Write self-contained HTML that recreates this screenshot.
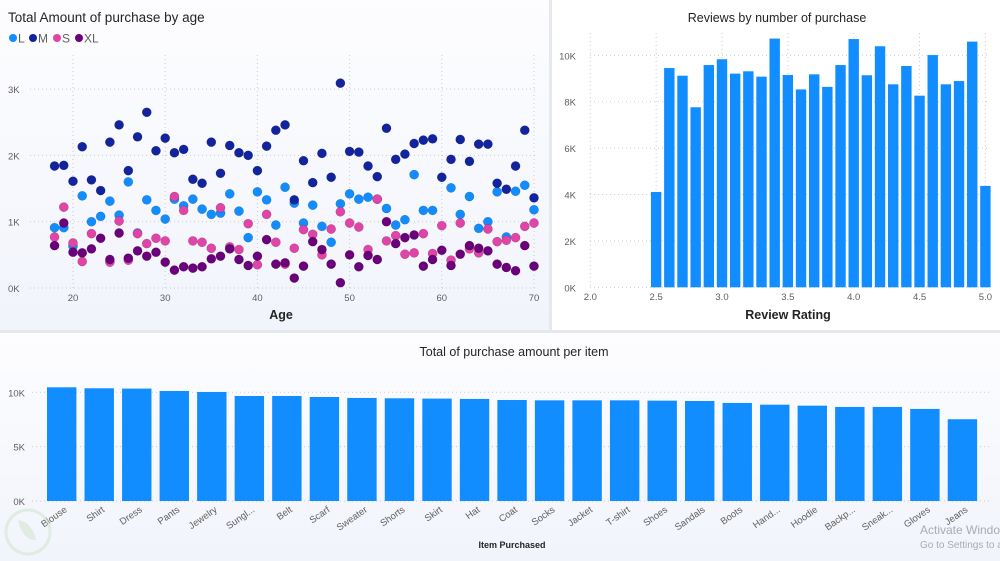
<!DOCTYPE html>
<html><head><meta charset="utf-8">
<style>
html,body{margin:0;padding:0;width:1000px;height:561px;overflow:hidden;background:#e6e8ef;font-family:"Liberation Sans",sans-serif;}
svg{display:block}
</style></head>
<body>
<svg id="root" width="1000" height="561" xmlns="http://www.w3.org/2000/svg">
<defs>
<linearGradient id="pg" x1="0" y1="0" x2="0" y2="1"><stop offset="0" stop-color="#fdfdff"/><stop offset="1" stop-color="#f1f4fb"/></linearGradient>
</defs>
<rect x="0" y="0" width="549" height="330" fill="url(#pg)"/>
<rect x="552" y="0" width="448" height="330" fill="#ffffff"/>
<rect x="0" y="333" width="1000" height="228" fill="url(#pg)"/>
<g id="scatter"></g>
<g id="reviews"></g>
<g id="items"></g>
<text x="920" y="534" font-size="12" fill="#a8abb3">Activate Windows</text>
<text x="920" y="548" font-size="10" fill="#a8abb3">Go to Settings to activate</text>
<g opacity="0.5"><circle cx="28" cy="532" r="22" fill="none" stroke="#cfe3c8" stroke-width="3"/><path d="M18 520 Q32 522 36 540 Q22 540 18 520Z" fill="#cfe3c8"/></g>
</svg>
<script>
const NS="http://www.w3.org/2000/svg";
function mk(tag,attrs,parent,txt){const e=document.createElementNS(NS,tag);for(const k in attrs)e.setAttribute(k,attrs[k]);if(txt!==undefined)e.textContent=txt;parent.appendChild(e);return e;}

// ---------- Scatter data ----------
const ages=[18,19,20,21,22,23,24,25,26,27,28,29,30,31,32,33,34,35,36,37,38,39,40,41,42,43,44,45,46,47,48,49,50,51,52,53,54,55,56,57,58,59,60,61,62,63,64,65,66,67,68,69,70];
const valL=[0.91,0.91,0.63,1.39,1.0,1.08,1.31,1.10,1.60,0.83,1.33,1.17,1.04,1.34,1.24,1.34,1.19,1.11,1.13,1.42,1.16,0.76,1.45,1.33,0.95,1.52,1.28,0.98,1.25,0.93,0.69,1.27,1.42,1.34,1.37,1.34,1.20,0.95,1.03,1.71,1.17,1.17,null,1.51,1.11,1.38,0.90,1.0,1.45,0.77,1.46,1.55,1.18];
const valM=[1.84,1.85,1.61,2.13,1.63,1.47,2.20,2.46,1.77,2.28,2.65,2.07,2.26,2.04,2.09,1.64,1.58,2.20,1.73,2.15,2.04,2.0,1.77,2.14,2.38,2.46,1.33,1.92,1.59,2.03,1.67,3.09,2.06,2.05,1.84,1.68,2.41,1.94,2.02,2.18,2.23,2.25,1.67,1.94,2.24,1.91,2.17,2.17,1.58,1.49,1.84,2.38,1.36];
const valS=[0.77,1.22,0.68,0.40,0.82,null,0.39,1.01,0.42,0.82,0.67,0.75,0.71,1.38,1.17,0.71,0.69,0.60,1.21,0.62,0.58,0.97,0.35,1.11,0.69,0.36,0.60,0.88,0.81,0.50,0.89,1.15,0.98,0.92,0.58,1.34,0.71,0.79,0.51,0.53,0.82,0.52,0.94,0.42,0.98,0.59,0.53,0.89,0.70,0.72,0.76,0.93,0.98];
const valXL=[0.64,0.98,0.54,0.53,0.59,0.75,0.43,0.83,0.45,0.56,0.48,0.54,0.39,0.27,0.32,0.30,0.32,0.44,0.48,0.59,0.43,0.34,0.48,0.73,0.36,0.38,0.15,0.33,0.70,0.58,0.36,0.08,0.50,0.32,0.49,0.43,1.0,0.67,0.76,0.80,0.33,0.43,0.57,0.34,0.51,0.64,0.60,0.56,0.36,0.31,0.26,0.64,0.33];
const scatterYTicks=[0,1,2,3];
const scatterYLabels=["0K","1K","2K","3K"];
const scatterXTicks=[20,30,40,50,60,70];

// ---------- Reviews data ----------
const ratings=[2.5,2.6,2.7,2.8,2.9,3.0,3.1,3.2,3.3,3.4,3.5,3.6,3.7,3.8,3.9,4.0,4.1,4.2,4.3,4.4,4.5,4.6,4.7,4.8,4.9,5.0];
const reviewCounts=[4.11,9.45,9.12,7.76,9.58,9.83,9.21,9.31,9.08,10.72,9.15,8.53,9.18,8.64,9.58,10.70,9.14,10.39,8.75,9.54,8.26,10.01,8.75,8.89,10.59,4.37];
const reviewYTicks=[0,2,4,6,8,10];
const reviewYLabels=["0K","2K","4K","6K","8K","10K"];
const reviewXTicks=[2.0,2.5,3.0,3.5,4.0,4.5,5.0];
const reviewXLabels=["2.0","2.5","3.0","3.5","4.0","4.5","5.0"];

// ---------- Items data ----------
const items=["Blouse","Shirt","Dress","Pants","Jewelry","Sungl...","Belt","Scarf","Sweater","Shorts","Skirt","Hat","Coat","Socks","Jacket","T-shirt","Shoes","Sandals","Boots","Hand...","Hoodie","Backp...","Sneak...","Gloves","Jeans"];
const itemTotals=[10.46,10.37,10.34,10.12,10.03,9.66,9.66,9.57,9.48,9.45,9.42,9.39,9.29,9.26,9.26,9.26,9.23,9.20,9.02,8.86,8.77,8.65,8.65,8.47,7.52];
const itemYTicks=[0,5,10];
const itemYLabels=["0K","5K","10K"];

const grid="#c8cbd2";
// ===== Scatter =====
(function(){
  const g=document.getElementById('scatter');
  const x=a=>73+(a-20)*9.22, y=v=>288-v*66.3;
  mk('text',{x:8,y:22,'font-size':13.5,fill:'#252423',},g,'Total Amount of purchase by age');
  const leg=[["L","#118DFF",13],["M","#12239E",33],["S","#E044A7",57],["XL","#6B007B",79]];
  leg.forEach(l=>{
    const e=mk('g',{},g);
    
    
    mk('circle',{cx:l[2],cy:38,r:4,fill:l[1]},e);
    mk('text',{x:l[2]+5,y:42.5,'font-size':12,fill:'#605e5c'},e,l[0]);
  });
  scatterYTicks.forEach((t,i)=>{
    mk('line',{x1:30,x2:536,y1:y(t),y2:y(t),stroke:grid,'stroke-dasharray':'1,3',},g);
    mk('text',{x:8,y:y(t)+4,'font-size':9.5,fill:'#605e5c',},g,scatterYLabels[i]);
  });
  scatterXTicks.forEach(t=>{
    mk('line',{x1:x(t),x2:x(t),y1:55,y2:288,stroke:grid,'stroke-dasharray':'1,3',},g);
    mk('text',{x:x(t),y:301,'font-size':9.5,fill:'#605e5c','text-anchor':'middle',},g,String(t));
  });
  mk('text',{x:281,y:319,'font-size':12.5,'font-weight':'bold',fill:'#252423','text-anchor':'middle',},g,'Age');
  const series=[[valL,"#118DFF","l"],[valM,"#12239E","m"],[valS,"#E044A7","s"],[valXL,"#6B007B","xl"]];
  series.forEach(s=>{
    s[0].forEach((v,i)=>{
      if(v===null)return;
      const c=mk('circle',{cx:x(ages[i]),cy:y(v),r:4.6,fill:s[1],stroke:'rgba(0,0,0,0.25)','stroke-width':0.5},g);
      
      
    });
  });
})();

// ===== Reviews =====
(function(){
  const g=document.getElementById('reviews');
  const x=r=>590.3+(r-2.0)*131.7, y=v=>287.3-v*23.2;
  mk('text',{x:777,y:22,'font-size':12.5,fill:'#252423','text-anchor':'middle',},g,'Reviews by number of purchase');
  reviewYTicks.forEach((t,i)=>{
    mk('line',{x1:590,x2:990,y1:y(t),y2:y(t),stroke:grid,'stroke-dasharray':'1,3',},g);
    mk('text',{x:576,y:y(t)+4,'font-size':9.5,fill:'#605e5c','text-anchor':'end',},g,reviewYLabels[i]);
  });
  reviewXTicks.forEach((t,i)=>{
    mk('line',{x1:x(t),x2:x(t),y1:33,y2:287,stroke:grid,'stroke-dasharray':'1,3',},g);
    mk('text',{x:x(t),y:300,'font-size':9.5,fill:'#605e5c','text-anchor':'middle',},g,reviewXLabels[i]);
  });
  ratings.forEach((r,i)=>{
    const b=mk('rect',{x:x(r)-5.2,y:y(reviewCounts[i]),width:10.4,height:reviewCounts[i]*23.2,fill:'#118DFF'},g);
    
    
  });
  mk('text',{x:788,y:319,'font-size':12.5,'font-weight':'bold',fill:'#252423','text-anchor':'middle',},g,'Review Rating');
})();

// ===== Items =====
(function(){
  const g=document.getElementById('items');
  const x=i=>61.7+i*37.53, y=v=>501-v*10.87;
  mk('text',{x:514,y:356,'font-size':12.5,fill:'#252423','text-anchor':'middle',},g,'Total of purchase amount per item');
  itemYTicks.forEach((t,i)=>{
    mk('line',{x1:32,x2:992,y1:y(t),y2:y(t),stroke:grid,'stroke-dasharray':'1,3',},g);
    mk('text',{x:25,y:y(t)+4,'font-size':9.5,fill:'#605e5c','text-anchor':'end',},g,itemYLabels[i]);
  });
  items.forEach((it,i)=>{
    const b=mk('rect',{x:x(i)-14.7,y:y(itemTotals[i]),width:29.4,height:itemTotals[i]*10.87,fill:'#118DFF'},g);
    
    
    const t=mk('text',{x:x(i)+6,y:511,'font-size':9.5,fill:'#605e5c','text-anchor':'end',transform:'rotate(-35 '+(x(i)+6)+' 511)'},g,it);
    
    
  });
  mk('text',{x:512,y:548,'font-size':9,'font-weight':'bold',fill:'#252423','text-anchor':'middle',},g,'Item Purchased');
})();
</script>
</body></html>
